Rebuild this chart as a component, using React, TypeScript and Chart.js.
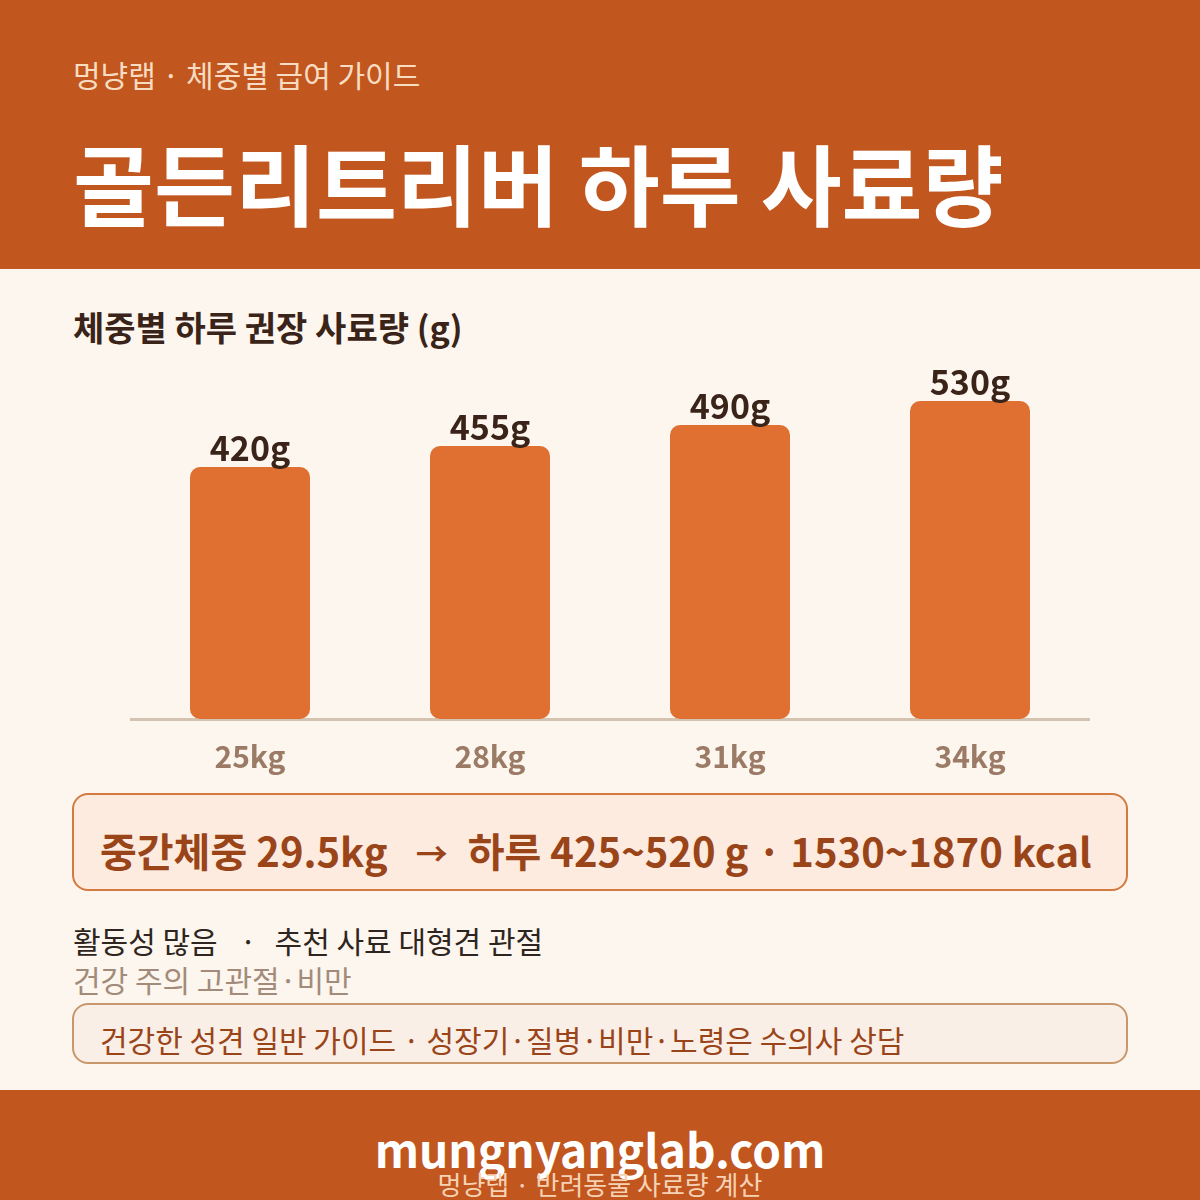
import React, { useEffect, useRef } from "react";
import { Chart, registerables } from "chart.js";

Chart.register(...registerables);

const weightLabels = ["25kg", "28kg", "31kg", "34kg"];
const dailyGrams = [420, 455, 490, 530];
const yMax = 600;

const FONT = '"Noto Sans CJK KR", "Noto Sans", sans-serif';

const labelPlugin = {
  id: "barValueLabels",
  afterDatasetsDraw(chart: any) {
    const { ctx } = chart;
    const meta = chart.getDatasetMeta(0);
    ctx.save();
    ctx.font = `bold 34px ${FONT}`;
    ctx.fillStyle = "#3A2419";
    ctx.textAlign = "center";
    ctx.textBaseline = "alphabetic";
    meta.data.forEach((bar: any, i: number) => {
      ctx.fillText(`${dailyGrams[i]}g`, bar.x, bar.y - 6);
    });
    ctx.restore();
  },
};

function BarChart() {
  const ref = useRef<HTMLCanvasElement | null>(null);
  useEffect(() => {
    if (!ref.current) return;
    const chart = new Chart(ref.current, {
      type: "bar",
      data: {
        labels: weightLabels,
        datasets: [
          {
            data: dailyGrams,
            backgroundColor: "#E07031",
            borderRadius: 10,
            borderSkipped: false,
            barPercentage: 0.5,
            categoryPercentage: 1,
          },
        ],
      },
      options: {
        animation: false,
        responsive: false,
        maintainAspectRatio: false,
        layout: { padding: { top: 20, left: 0, right: 0, bottom: 0 } },
        plugins: { legend: { display: false }, tooltip: { enabled: false } },
        scales: {
          y: { display: false, min: 0, max: yMax },
          x: {
            grid: { display: false, drawTicks: false },
            border: { display: true, color: "#D5C3B1", width: 3 },
            ticks: {
              color: "#9C7B66",
              padding: 20,
              font: { family: FONT, size: 30, weight: "bold" },
            },
          },
        },
      },
      plugins: [labelPlugin],
    });
    return () => chart.destroy();
  }, []);
  return (
    <canvas
      ref={ref}
      width={960}
      height={456}
      style={{ position: "absolute", left: 130, top: 339, width: 960, height: 456 }}
    />
  );
}

export default function App() {
  const abs = (s: React.CSSProperties): React.CSSProperties => ({ position: "absolute", ...s });
  return (
    <div
      style={{
        position: "fixed",
        left: 0,
        top: 0,
        width: 1200,
        height: 1200,
        background: "#FDF6EE",
        fontFamily: FONT,
        overflow: "hidden",
      }}
    >
      <div style={abs({ left: 0, top: 0, width: 1200, height: 269, background: "#C2561F" })} />
      <div style={abs({ left: 73, top: 54, fontSize: 30, color: "#F8DCC1", lineHeight: "40px", whiteSpace: "pre" })}>
        멍냥랩 · 체중별 급여 가이드
      </div>
      <div
        style={abs({
          left: 73,
          top: 126,
          fontSize: 88,
          fontWeight: 700,
          color: "#FFFFFF",
          lineHeight: "110px",
          whiteSpace: "pre",
        })}
      >
        골든리트리버 하루 사료량
      </div>

      <div style={abs({ left: 73, top: 305, fontSize: 34, fontWeight: 700, color: "#3A2419", lineHeight: "44px", whiteSpace: "pre" })}>
        체중별 하루 권장 사료량 (g)
      </div>

      <BarChart />

      <div
        style={abs({
          left: 72,
          top: 793,
          width: 1056,
          height: 98,
          boxSizing: "border-box",
          border: "2px solid #D27A40",
          borderRadius: 16,
          background: "#FDEBDF",
        })}
      />
      <div style={abs({ left: 100, top: 822, fontSize: 40, fontWeight: 700, color: "#9A4419", lineHeight: "56px", whiteSpace: "pre" })}>
        중간체중 29.5kg
        <span style={{ display: "inline-block", fontSize: 32, margin: "0 20px 0 28px", verticalAlign: "top", lineHeight: "60px" }}>→</span>
        하루 425~520 g · 1530~1870 kcal
      </div>

      <div style={abs({ left: 73, top: 920, fontSize: 30, color: "#2F2520", lineHeight: "40px", whiteSpace: "pre" })}>
        활동성 많음<span style={{ display: "inline-block", margin: "0 18px 0 22px" }}>·</span>추천 사료 대형견 관절
      </div>
      <div style={abs({ left: 73, top: 959, fontSize: 30, color: "#A28B7A", lineHeight: "40px", whiteSpace: "pre" })}>
        건강 주의 고관절·비만
      </div>

      <div
        style={abs({
          left: 72,
          top: 1003,
          width: 1056,
          height: 61,
          boxSizing: "border-box",
          border: "2px solid #C9976C",
          borderRadius: 16,
          background: "#FAEFE6",
        })}
      />
      <div style={abs({ left: 100, top: 1019, fontSize: 30, color: "#9A4419", lineHeight: "40px", whiteSpace: "pre" })}>
        건강한 성견 일반 가이드 · 성장기·질병·비만·노령은 수의사 상담
      </div>

      <div style={abs({ left: 0, top: 1090, width: 1200, height: 110, background: "#C2561F" })} />
      <div
        style={abs({
          left: 0,
          top: 1118,
          width: 1200,
          textAlign: "center",
          fontSize: 46,
          fontWeight: 700,
          color: "#FFFFFF",
          lineHeight: "60px",
        })}
      >
        mungnyanglab.com
      </div>
      <div
        style={abs({
          left: 0,
          top: 1167,
          width: 1200,
          textAlign: "center",
          fontSize: 26,
          color: "#F6D2B4",
          lineHeight: "34px",
        })}
      >
        멍냥랩 · 반려동물 사료량 계산
      </div>
    </div>
  );
}
